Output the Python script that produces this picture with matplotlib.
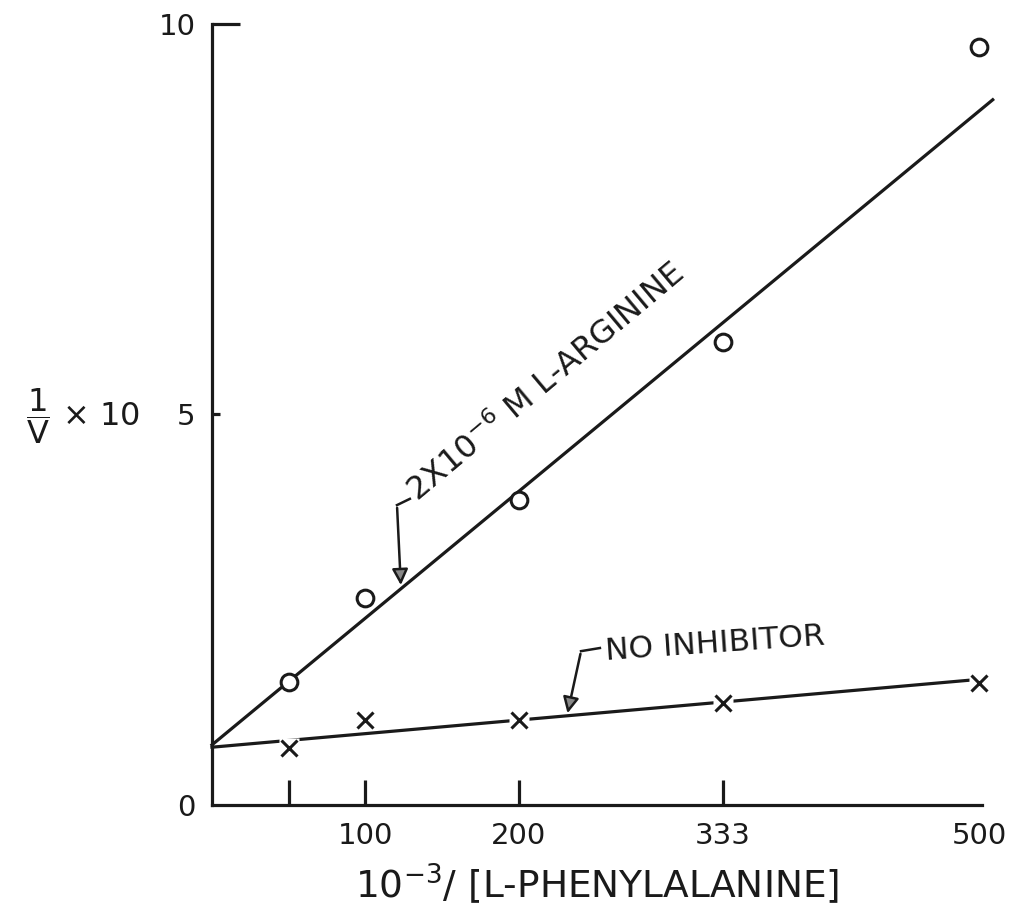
import matplotlib.pyplot as plt

# Lineweaver-Burk data
inv_phe = [50, 100, 200, 333, 500]
arginine_y = [1.57, 2.65, 3.91, 5.93, 9.71]
no_inhib_y = [0.73, 1.09, 1.09, 1.31, 1.56]

# hand-drawn fitted lines (end points)
arg_line_x = [0, 509]
arg_line_y = [0.77, 9.03]
none_line_x = [0, 495]
none_line_y = [0.74, 1.60]

x_ticks = [50, 100, 200, 333, 500]
x_tick_labels = ["", "100", "200", "333", "500"]
y_ticks = [0, 5, 10]
y_tick_labels = ["0", "5", "10"]

plt.rcParams["font.family"] = ["DejaVu Sans"]
plt.rcParams["mathtext.fontset"] = "dejavusans"

fig = plt.figure(figsize=(10.22, 9.18), dpi=100)
ax = fig.add_axes([212 / 1022, 1 - 805 / 918, 770 / 1022, 781 / 918])

ink = "#1a1a1a"
lw = 2.3
ax.plot(arg_line_x, arg_line_y, color=ink, lw=lw, clip_on=False, zorder=2)
ax.plot(none_line_x, none_line_y, color=ink, lw=lw, clip_on=False, zorder=2)

# open circles break the line
ax.plot(inv_phe, arginine_y, "o", ms=12, mfc="white", mec=ink, mew=2.2,
        clip_on=False, zorder=3)
# crosses with a white gap around them
ax.plot(inv_phe, no_inhib_y, "s", ms=14, mfc="white", mec="none",
        clip_on=False, zorder=3)
ax.plot(inv_phe, no_inhib_y, "x", ms=11, mec=ink, mew=2.2,
        clip_on=False, zorder=4)

ax.set_xlim(0, 502)
ax.set_ylim(0, 10)

for side in ["top", "right"]:
    ax.spines[side].set_visible(False)
for side in ["left", "bottom"]:
    ax.spines[side].set_linewidth(lw)
    ax.spines[side].set_color(ink)

ax.set_xticks(x_ticks)
ax.set_xticklabels(x_tick_labels, fontsize=21)
ax.set_yticks(y_ticks)
ax.set_yticklabels(y_tick_labels, fontsize=21)
ax.tick_params(axis="x", direction="in", length=18, width=lw, pad=12, colors=ink)
ax.tick_params(axis="y", direction="in", length=6, width=lw, pad=12, colors=ink)
ax.yaxis.get_major_ticks()[0].tick1line.set_markersize(0)
ax.yaxis.get_major_ticks()[2].tick1line.set_markersize(20)
ax.xaxis.get_major_ticks()[4].tick1line.set_markersize(0)

# annotation: arginine line
ax.text(134, 3.87, r"2X10$^{-6}$ M L-ARGININE", rotation=40,
        rotation_mode="anchor", ha="left", va="baseline", fontsize=23,
        color=ink)
ax.plot([129, 120.6], [3.92, 3.84], color=ink, lw=1.8)
ax.annotate("", xy=(123.2, 2.78), xytext=(120.6, 3.84),
            arrowprops=dict(arrowstyle="-|>", color=ink, lw=1.8,
                            mutation_scale=24, fc="#888888"))

# annotation: no inhibitor line
ax.text(257, 1.86, "NO INHIBITOR", rotation=4, rotation_mode="anchor",
        ha="left", va="baseline", fontsize=22.5, color=ink)
ax.plot([252.9, 240.6], [2.01, 1.97], color=ink, lw=1.8)
ax.annotate("", xy=(231.4, 1.14), xytext=(240.6, 1.97),
            arrowprops=dict(arrowstyle="-|>", color=ink, lw=1.8,
                            mutation_scale=24, fc="#888888"))

# axis labels
fig.text(26 / 1022, 1 - 416 / 918, r"$\dfrac{1}{\mathrm{V}}$ × 10", fontsize=23,
         ha="left", va="center", color=ink)
fig.text(597 / 1022, 1 - 884 / 918, r"10$^{-3}$/ [L-PHENYLALANINE]", fontsize=27,
         ha="center", va="center", color=ink)

fig.savefig("out.png", dpi=100)
